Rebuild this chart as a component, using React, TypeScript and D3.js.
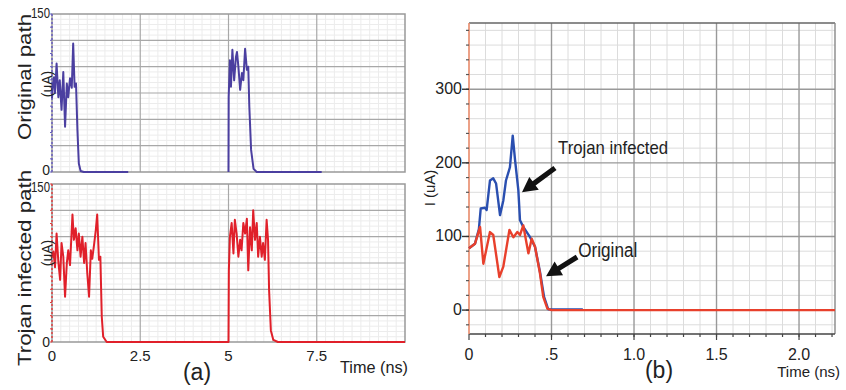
import React from "react";
import * as d3 from "d3";

// ---------- Data ----------
// Panel (a), top: original path current (uA) vs time (ns), two pulses
const origP1T = [0, 0.02, 0.057, 0.085, 0.13, 0.18, 0.22, 0.27, 0.32, 0.37, 0.42, 0.46, 0.51, 0.56, 0.6, 0.64, 0.68, 0.72, 0.76, 0.81, 0.9, 2.16];
const origP1V = [70, 81, 90, 75, 103, 71, 87, 59, 95, 43, 84, 71, 89, 80, 122, 81, 84, 40, 8, 1, 0, 0];
const origP2T = [5.0, 5.005, 5.04, 5.07, 5.11, 5.16, 5.21, 5.24, 5.28, 5.33, 5.38, 5.42, 5.47, 5.52, 5.56, 5.59, 5.64, 5.71, 5.8, 7.64];
const origP2V = [0, 71, 106, 81, 116, 87, 109, 114, 100, 78, 94, 87, 117, 97, 100, 62, 21, 3, 0, 0];

// Panel (a), bottom: trojan infected path
const trojP1T = [0, 0.04, 0.085, 0.13, 0.18, 0.23, 0.27, 0.32, 0.37, 0.42, 0.46, 0.51, 0.58, 0.62, 0.67, 0.72, 0.76, 0.81, 0.86, 0.91, 0.95, 1.0, 1.05, 1.1, 1.14, 1.19, 1.24, 1.28, 1.33, 1.37, 1.41, 1.45, 1.55];
const trojP1V = [81, 86, 71, 103, 76, 59, 94, 81, 43, 75, 87, 73, 121, 97, 108, 87, 103, 81, 100, 75, 94, 65, 43, 87, 79, 92, 106, 121, 78, 81, 24, 5, 0];
const trojP2T = [5.0, 5.01, 5.04, 5.09, 5.14, 5.18, 5.23, 5.28, 5.33, 5.37, 5.42, 5.47, 5.52, 5.56, 5.61, 5.66, 5.7, 5.75, 5.8, 5.84, 5.89, 5.94, 5.98, 6.03, 6.08, 6.12, 6.15, 6.2, 6.27, 6.4, 10];
const trojP2V = [0, 68, 100, 113, 84, 116, 103, 81, 97, 87, 113, 103, 117, 68, 109, 87, 125, 97, 113, 81, 100, 81, 94, 78, 116, 97, 49, 11, 2, 0, 0];

// Panel (b): zoomed comparison
const bTrojanT = [0, 0.036, 0.06, 0.071, 0.097, 0.107, 0.127, 0.147, 0.164, 0.188, 0.208, 0.224, 0.248, 0.265, 0.279, 0.299, 0.309, 0.329, 0.37, 0.4, 0.43, 0.455, 0.48, 0.5, 0.69];
const bTrojanV = [84, 90, 110, 138, 139, 136, 176, 179, 172, 129, 149, 176, 194, 237, 204, 163, 122, 113, 99, 86, 52, 18, 1, 1, 1];
const bOrigT = [0, 0.036, 0.067, 0.087, 0.127, 0.147, 0.184, 0.208, 0.245, 0.269, 0.293, 0.309, 0.329, 0.36, 0.38, 0.4, 0.43, 0.45, 0.475, 0.5, 2.218];
const bOrigV = [84, 90, 113, 63, 106, 102, 45, 59, 109, 99, 106, 102, 115, 77, 97, 86, 50, 18, 2, 0, 0];

// Ticks
const aXTicks = [0, 2.5, 5, 7.5];
const aXTickLabels = ["0", "2.5", "5", "7.5"];
const bXTicks = [0, 0.5, 1.0, 1.5, 2.0];
const bXTickLabels = ["0", ".5", "1.0", "1.5", "2.0"];
const bYTicks = [0, 100, 200, 300];
const bYTickLabels = ["0", "100", "200", "300"];

// Annotations (panel b, data space): [tailT, tailV, headT, headV]
const trojanArrow = [0.521, 193, 0.321, 160];
const origArrow = [0.655, 72, 0.467, 46];

const FONT = "'Liberation Sans', Arial, sans-serif";

const zip = (t: number[], v: number[]) => t.map((x, i) => [x, v[i]] as [number, number]);

function Arrow({ x1, y1, x2, y2 }: { x1: number; y1: number; x2: number; y2: number }) {
  const dx = x2 - x1, dy = y2 - y1;
  const L = Math.hypot(dx, dy);
  const ux = dx / L, uy = dy / L;
  const nx = -uy, ny = ux;
  const hl = 15, hw = 8, sw = 2.6;
  const bx = x2 - ux * hl, by = y2 - uy * hl;
  const pts = [
    [x1 + nx * sw, y1 + ny * sw],
    [bx + nx * sw, by + ny * sw],
    [bx + nx * hw, by + ny * hw],
    [x2, y2],
    [bx - nx * hw, by - ny * hw],
    [bx - nx * sw, by - ny * sw],
    [x1 - nx * sw, y1 - ny * sw],
  ];
  return <polygon points={pts.map((p) => p.join(",")).join(" ")} fill="#111" />;
}

export default function App() {
  // Panel (a) scales
  const ax = d3.scaleLinear().domain([0, 10]).range([52, 405]);
  const ayTop = d3.scaleLinear().domain([0, 150]).range([172, 14]);
  const ayBot = d3.scaleLinear().domain([0, 150]).range([342, 184]);
  // Panel (b) scales
  const bx = d3.scaleLinear().domain([0, 2.218]).range([469, 835]);
  const by = d3.scaleLinear().domain([-32.5, 390]).range([334, 23]);

  const aMinorX = d3.range(0.25, 10, 0.25).filter((v) => Math.abs(v / 2.5 - Math.round(v / 2.5)) > 1e-6);
  const aMinorY = d3.range(5, 150, 5).filter((v) => v % 25 !== 0);
  const aMajorX = [2.5, 5, 7.5];
  const aMajorY = [25, 50, 75, 100, 125];

  const bMinorX = d3.range(0.1, 2.218, 0.1).filter((v) => Math.abs(v / 0.5 - Math.round(v / 0.5)) > 1e-6);
  const bMinorY = d3.range(-20, 390, 20).filter((v) => v % 100 !== 0);
  const bMajorX = [0.5, 1.0, 1.5, 2.0];
  const bMajorY = [0, 100, 200, 300];

  const panelA = (
    ay: d3.ScaleLinear<number, number>,
    axisColor: string,
    key: string,
    topLabelDy: number,
    botLabelDy: number
  ) => {
    const [y0, y1] = ay.range();
    const [x0, x1] = ax.range();
    return (
      <g key={key}>
        <rect x={x0} y={y1} width={x1 - x0} height={y0 - y1} fill="#fff" />
        {aMinorX.map((v) => (
          <line key={"mx" + v} x1={ax(v)} x2={ax(v)} y1={y1} y2={y0} stroke="#ececec" strokeWidth={1} />
        ))}
        {aMinorY.map((v) => (
          <line key={"my" + v} x1={x0} x2={x1} y1={ay(v)} y2={ay(v)} stroke="#ececec" strokeWidth={1} />
        ))}
        {aMajorX.map((v) => (
          <line key={"Mx" + v} x1={ax(v)} x2={ax(v)} y1={y1} y2={y0} stroke="#a8a8a8" strokeWidth={1.2} />
        ))}
        {aMajorY.map((v) => (
          <line key={"My" + v} x1={x0} x2={x1} y1={ay(v)} y2={ay(v)} stroke="#a8a8a8" strokeWidth={1.2} />
        ))}
        <rect x={x0} y={y1} width={x1 - x0} height={y0 - y1} fill="none" stroke="#999" strokeWidth={1.5} />
        <line x1={x0} x2={x0} y1={y1} y2={y0} stroke={axisColor} strokeWidth={1.5} strokeDasharray="2,2" />
        {d3.range(0, 151, 12.5).map((v) => (
          <line key={"t" + v} x1={x0 - 2} x2={x0} y1={ay(v)} y2={ay(v)} stroke={axisColor} strokeWidth={1} />
        ))}
        <text x={x0 - 2} y={ay(150) + topLabelDy} textAnchor="end" fontSize={14} fontFamily={FONT} fill="#222" textLength={19} lengthAdjust="spacingAndGlyphs">
          150
        </text>
        <text x={x0 - 2} y={ay(0) + botLabelDy} textAnchor="end" fontSize={14} fontFamily={FONT} fill="#222">
          0
        </text>
      </g>
    );
  };

  const lineA = (ay: d3.ScaleLinear<number, number>) =>
    d3
      .line<[number, number]>()
      .x((d) => ax(d[0]))
      .y((d) => ay(d[1]));
  const lineB = d3
    .line<[number, number]>()
    .x((d) => bx(d[0]))
    .y((d) => by(d[1]));

  const trojA = zip(trojP1T, trojP1V).concat(zip(trojP2T, trojP2V));

  const [bx0, bx1] = bx.range();
  const [by0, by1] = by.range();

  return (
    <svg
      width={846}
      height={390}
      style={{ position: "absolute", left: 0, top: 0, background: "#fff" }}
      fontFamily={FONT}
    >
      <rect x={0} y={0} width={846} height={390} fill="#fff" />

      {/* Panel (a) top */}
      {panelA(ayTop, "#6a5fc0", "top", 4, 3)}
      <path d={lineA(ayTop)(zip(origP1T, origP1V)) || ""} fill="none" stroke="#4b3fa0" strokeWidth={2} strokeLinejoin="round" />
      <path d={lineA(ayTop)(zip(origP2T, origP2V)) || ""} fill="none" stroke="#4b3fa0" strokeWidth={2} strokeLinejoin="round" />
      <text transform="translate(31,77) rotate(-90)" textAnchor="middle" fontSize={19} fontFamily={FONT} fill="#222" textLength={126} lengthAdjust="spacingAndGlyphs">
        Original path
      </text>
      <text transform="translate(52,84) rotate(-90)" textAnchor="middle" fontSize={14} fontFamily={FONT} fill="#222">
        (uA)
      </text>

      {/* Panel (a) bottom */}
      {panelA(ayBot, "#e04040", "bot", 8, 5)}
      <path d={lineA(ayBot)(trojA) || ""} fill="none" stroke="#e0202a" strokeWidth={2} strokeLinejoin="round" />
      <text transform="translate(31,268) rotate(-90)" textAnchor="middle" fontSize={19} fontFamily={FONT} fill="#222" textLength={196} lengthAdjust="spacingAndGlyphs">
        Trojan infected path
      </text>
      <text transform="translate(52,253) rotate(-90)" textAnchor="middle" fontSize={14} fontFamily={FONT} fill="#222">
        (uA)
      </text>
      {aXTicks.map((v, i) => (
        <text key={"ax" + v} x={ax(v)} y={361} textAnchor="middle" fontSize={15} fontFamily={FONT} fill="#222">
          {aXTickLabels[i]}
        </text>
      ))}
      <text x={408} y={373} textAnchor="end" fontSize={17} fontFamily={FONT} fill="#222" textLength={68} lengthAdjust="spacingAndGlyphs">
        Time (ns)
      </text>
      <text x={197} y={380} textAnchor="middle" fontSize={23} fontFamily={FONT} fill="#222">
        (a)
      </text>

      {/* Panel (b) */}
      <g>
        {bMinorX.map((v) => (
          <line key={"bmx" + v} x1={bx(v)} x2={bx(v)} y1={by1} y2={by0} stroke="#dcdcdc" strokeWidth={1} />
        ))}
        {bMinorY.map((v) => (
          <line key={"bmy" + v} x1={bx0} x2={bx1} y1={by(v)} y2={by(v)} stroke="#dcdcdc" strokeWidth={1} />
        ))}
        {bMajorX.map((v) => (
          <line key={"bMx" + v} x1={bx(v)} x2={bx(v)} y1={by1} y2={by0} stroke="#999" strokeWidth={1.4} />
        ))}
        {bMajorY.map((v) => (
          <line key={"bMy" + v} x1={bx0} x2={bx1} y1={by(v)} y2={by(v)} stroke="#999" strokeWidth={1.4} />
        ))}
        <line x1={bx0} x2={bx1} y1={by1} y2={by1} stroke="#666" strokeWidth={1.6} />
        <line x1={bx1} x2={bx1} y1={by1} y2={by0} stroke="#888" strokeWidth={1.4} />
        <line x1={bx0} x2={bx1} y1={by0} y2={by0} stroke="#444" strokeWidth={1.6} />
        <line x1={bx0} x2={bx0} y1={by1} y2={by0} stroke="#e88a6a" strokeWidth={1.6} />
        {d3.range(-20, 390, 20).map((v) => (
          <line key={"byt" + v} x1={bx0 - 3} x2={bx0} y1={by(v)} y2={by(v)} stroke="#555" strokeWidth={1.2} />
        ))}
        {d3.range(0.1, 2.218, 0.1).map((v) => (
          <line key={"bxt" + v} x1={bx(v)} x2={bx(v)} y1={by0} y2={by0 + 3} stroke="#444" strokeWidth={1.2} />
        ))}
        {bXTicks.map((v) => (
          <line key={"bxT" + v} x1={bx(v)} x2={bx(v)} y1={by0} y2={by0 + 6} stroke="#444" strokeWidth={1.2} />
        ))}
        {bYTicks.map((v, i) => (
          <g key={"byl" + v}>
            <line x1={bx0 - 7} x2={bx0} y1={by(v)} y2={by(v)} stroke="#333" strokeWidth={1.4} />
            <text x={bx0 - 7} y={by(v) + 5} textAnchor="end" fontSize={16} fontFamily={FONT} fill="#222">
              {bYTickLabels[i]}
            </text>
          </g>
        ))}
        {bXTicks.map((v, i) => (
          <text key={"bxl" + v} x={bx(v)} y={360} textAnchor="middle" fontSize={16} fontFamily={FONT} fill="#222">
            {bXTickLabels[i]}
          </text>
        ))}
        <text transform="translate(435,188) rotate(-90)" textAnchor="middle" fontSize={15} fontFamily={FONT} fill="#222">
          I (uA)
        </text>
        <text x={840} y={377} textAnchor="end" fontSize={15} fontFamily={FONT} fill="#222">
          Time (ns)
        </text>
        <text x={659} y={378} textAnchor="middle" fontSize={23} fontFamily={FONT} fill="#222">
          (b)
        </text>

        <path d={lineB(zip(bTrojanT, bTrojanV)) || ""} fill="none" stroke="#2a4fb0" strokeWidth={2.4} strokeLinejoin="round" />
        <path d={lineB(zip(bOrigT, bOrigV)) || ""} fill="none" stroke="#e8402c" strokeWidth={2.4} strokeLinejoin="round" />

        <Arrow x1={bx(trojanArrow[0])} y1={by(trojanArrow[1])} x2={bx(trojanArrow[2])} y2={by(trojanArrow[3])} />
        <Arrow x1={bx(origArrow[0])} y1={by(origArrow[1])} x2={bx(origArrow[2])} y2={by(origArrow[3])} />
        <text x={bx(0.54)} y={by(212)} fontSize={19} fontFamily={FONT} fill="#222" textLength={110} lengthAdjust="spacingAndGlyphs">
          Trojan infected
        </text>
        <text x={bx(0.662)} y={by(72)} fontSize={20} fontFamily={FONT} fill="#222" textLength={59} lengthAdjust="spacingAndGlyphs">
          Original
        </text>
      </g>
    </svg>
  );
}
